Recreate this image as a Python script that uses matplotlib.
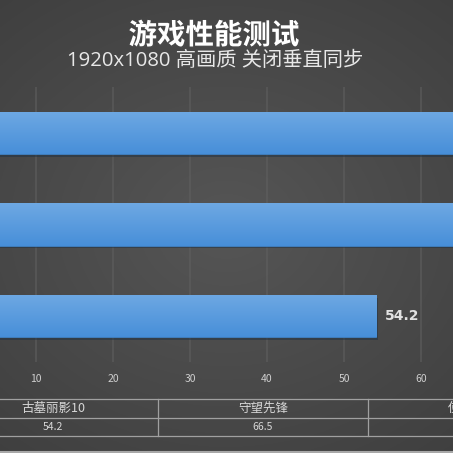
import numpy as np
import matplotlib
matplotlib.use("Agg")
import matplotlib.pyplot as plt
import matplotlib.patheffects as pe
from matplotlib.lines import Line2D

plt.rcParams["font.family"] = ["Noto Sans CJK SC", "DejaVu Sans"]

# data, first category sits at the bottom (Excel style)
games = ["古墓丽影10", "守望先锋", "使命召唤"]
fps = [54.2, 66.5, 72.6]
x_ticks = [10, 20, 30, 40, 50, 60, 70]

title = "游戏性能测试"
subtitle = "1920x1080 高画质 关闭垂直同步"

W = H = 453
fig = plt.figure(figsize=(W / 100, H / 100), dpi=100)

# radial grey background
bg = fig.add_axes([0, 0, 1, 1], zorder=-10)
yy, xx = np.mgrid[0:1:300j, 0:1:300j]
r = np.sqrt((xx - 0.5) ** 2 + ((yy - 0.5) * 1.2) ** 2)
shade = 0.335 - 0.11 * r
bg.imshow(np.dstack([shade, shade, shade]).clip(0, 1), extent=(0, 1, 0, 1),
          aspect="auto", origin="upper")
bg.set_axis_off()

# main plot area, left part cropped away like the reference
px_per_unit = 7.7
zero_px = -41
xlim = ((0 - zero_px) / px_per_unit, (W - zero_px) / px_per_unit)
ax = fig.add_axes([0, 1 - 362 / H, 1, 275 / H])
ax.set_facecolor("none")

ypos = np.arange(len(games))
bars = ax.barh(ypos, fps, height=0.46, color="#559ade", edgecolor="#3f80c2",
               linewidth=0.6, zorder=3,
               path_effects=[pe.SimplePatchShadow(offset=(1.0, -2.0), alpha=0.45),
                             pe.Normal()])
grad = np.linspace(0, 1, 64).reshape(-1, 1)
top_c = np.array([0.43, 0.66, 0.89])
bot_c = np.array([0.28, 0.56, 0.85])
img = top_c * (1 - grad[..., None]) + bot_c * grad[..., None]
for b in bars:
    x0, y0, w, h = b.get_x(), b.get_y(), b.get_width(), b.get_height()
    im = ax.imshow(img, extent=(x0, x0 + w, y0, y0 + h), aspect="auto",
                   origin="upper", zorder=3.5)
    im.set_clip_path(b)

for y, v in zip(ypos, fps):
    ax.text(v + 1.15, y, f"{v:.1f}", va="center", ha="left", fontsize=10,
            fontweight="bold", color="#e2e2e2", family="DejaVu Sans", zorder=5)

ax.set_xticks(x_ticks)
ax.set_yticks([])
ax.set_xlim(*xlim)
ax.set_ylim(-0.5, len(games) - 0.5)
ax.tick_params(axis="x", length=0, pad=9, labelsize=7.5, labelcolor="#cfcfcf")
ax.grid(axis="x", color="#606060", linewidth=1.2, alpha=0.65)
ax.set_axisbelow(True)
for s in ax.spines.values():
    s.set_visible(False)

# titles
fig.text(214 / W, 1 - 36 / H, title, ha="center", va="center", fontsize=20.5,
         fontweight="bold", color="white",
         path_effects=[pe.withSimplePatchShadow(offset=(1, -1), alpha=0.6)])
fig.text(215 / W, 1 - 61 / H, subtitle, ha="center", va="center", fontsize=14.6,
         color="#e8e8e8", family=["Open Sans", "Noto Sans CJK SC"])

# data table under the axis
col_w = 210
col_x0 = -52
line_c = "#a0a0a0"
for yl in [399, 418, 436]:
    fig.add_artist(Line2D([0, 1], [1 - yl / H] * 2, color=line_c, lw=0.9))
for i, (g, v) in enumerate(zip(games, fps)):
    left = col_x0 + i * col_w
    if i > 0:
        fig.add_artist(Line2D([left / W] * 2, [1 - 399 / H, 1 - 436 / H],
                              color=line_c, lw=0.9))
    cx = (left + col_w / 2) / W
    fig.text(cx, 1 - 408.5 / H, g, ha="center", va="center", fontsize=9,
             color="#d8d8d8")
    fig.text(cx, 1 - 427 / H, f"{v:.1f}", ha="center", va="center",
             fontsize=7.5, color="#d8d8d8")

fig.add_artist(Line2D([0, 1], [1 - 451.5 / H] * 2, color="#a8a8a8", lw=1.5))

fig.savefig("out.png", dpi=100)
